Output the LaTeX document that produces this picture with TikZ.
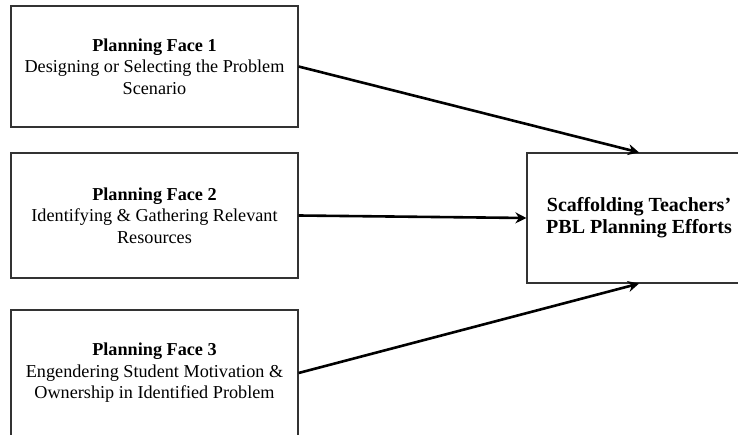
\documentclass[tikz,border=0pt]{standalone}
\usepackage{fontspec}
\setmainfont{Liberation Serif}
\usetikzlibrary{arrows.meta}
\begin{document}
\begin{tikzpicture}[x=1pt,y=-1pt,
  facebox/.style={draw=black!80,line width=1.2pt,minimum width=287pt,align=center,
    font=\fontsize{18.2}{21.5}\selectfont,inner sep=0pt},
  goalbox/.style={draw=black!80,line width=1.2pt,minimum width=224pt,minimum height=130pt,
    align=center,font=\fontsize{20}{22}\selectfont\bfseries,inner sep=0pt},
  link/.style={line width=2.6pt,-{Stealth[length=11pt,width=11pt]}}]
\useasboundingbox (0,0) rectangle (738,435);
\clip (0,0) rectangle (738,435);
\node[facebox,minimum height=121pt] (b1) at (154.5,66.5) {\textbf{Planning Face 1}\\Designing or Selecting the Problem\\Scenario};
\node[facebox,minimum height=125pt] (b2) at (154.5,215.5) {\textbf{Planning Face 2}\\Identifying \& Gathering Relevant\\Resources};
\node[facebox,minimum height=126pt] (b3) at (154.5,373) {\textbf{Planning Face 3}\\Engendering Student Motivation \&\\Ownership in Identified Problem};
\node[goalbox] (r) at (639,218) {Scaffolding Teachers'\\PBL Planning Efforts};
\draw[link] (b1.east) -- (r.north);
\draw[link] (b2.east) -- (r.west);
\draw[link] (b3.east) -- (r.south);
\end{tikzpicture}
\end{document}
